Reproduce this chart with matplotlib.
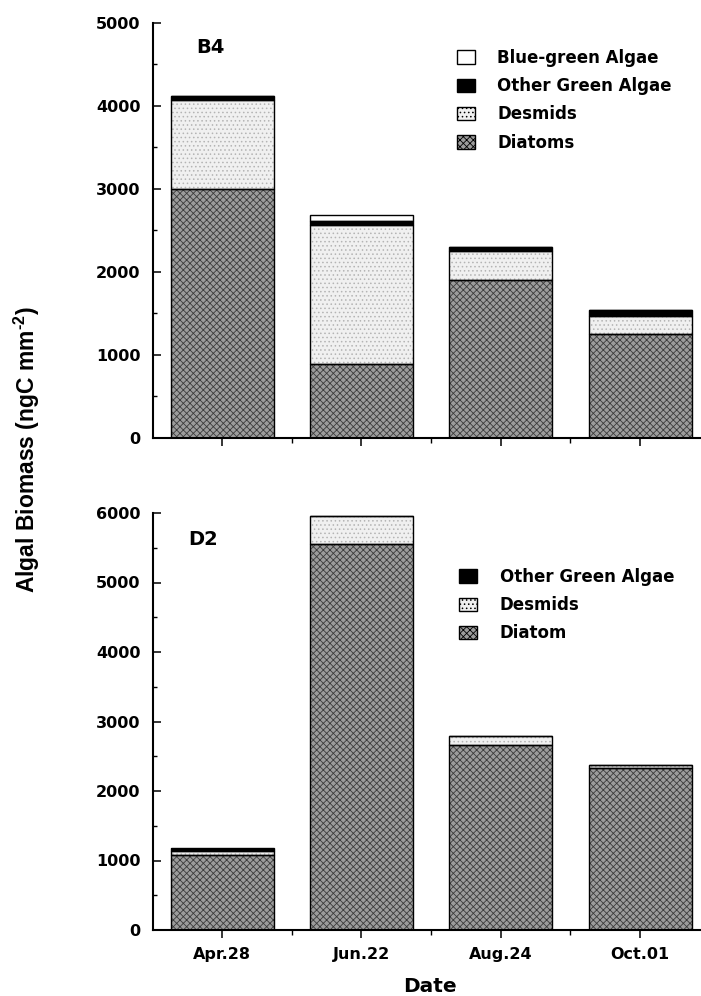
import matplotlib
matplotlib.use("Agg")
import matplotlib.pyplot as plt
import matplotlib.patches as mpatches
from matplotlib.ticker import MultipleLocator
import numpy as np

# ---------------- data ----------------
dates = ["Apr.28", "Jun.22", "Aug.24", "Oct.01"]

b4_diatoms = [3000, 890, 1900, 1250]
b4_desmids = [1070, 1680, 350, 220]
b4_other_green = [50, 50, 50, 70]
b4_blue_green = [0, 65, 0, 0]

d2_diatom = [1080, 5560, 2660, 2335]
d2_desmids = [50, 390, 130, 45]
d2_other_green = [55, 0, 0, 0]

# ---------------- style ----------------
plt.rcParams['font.family'] = ['DejaVu Sans']
plt.rcParams['font.weight'] = 'bold'
plt.rcParams['hatch.linewidth'] = 0.6
plt.rcParams['mathtext.fontset'] = 'custom'
plt.rcParams['mathtext.rm'] = 'Liberation Sans:bold'
plt.rcParams['mathtext.bf'] = 'Liberation Sans:bold'

TICK_FS = 11.5
DIATOM = dict(face='#9c9c9c', hatch='xxxxx', hcol='#3c3c3c')
DESMID = dict(face='#f0f0f0', hatch='....', hcol='#b4b4b4')
OTHER = dict(face='black', hatch=None, hcol='black')
BLUE = dict(face='white', hatch=None, hcol='white')

W, H = 701, 996
fig = plt.figure(figsize=(W / 100, H / 100), dpi=100)

left = 152.5 / W
width = (700 - 152.5) / W
ax1 = fig.add_axes([left, 1 - 438 / H, width, (438 - 23) / H])
ax2 = fig.add_axes([left, 1 - 930 / H, width, (930 - 513) / H])

x = np.arange(len(dates))
bw = 0.74


def stacked(ax, layers):
    bottom = np.zeros(len(x))
    for vals, st in layers:
        vals = np.asarray(vals, dtype=float)
        ax.bar(x, vals, bw, bottom=bottom, color=st['face'], hatch=st['hatch'],
               edgecolor=st['hcol'], linewidth=0, zorder=2)
        ax.bar(x, vals, bw, bottom=bottom, fill=False, edgecolor='black',
               linewidth=1.0, zorder=3)
        bottom = bottom + vals


stacked(ax1, [(b4_diatoms, DIATOM), (b4_desmids, DESMID),
              (b4_other_green, OTHER), (b4_blue_green, BLUE)])
stacked(ax2, [(d2_diatom, DIATOM), (d2_desmids, DESMID),
              (d2_other_green, OTHER)])

for ax, top in [(ax1, 5000), (ax2, 6000)]:
    ax.set_xlim(-0.5, 3.43)
    ax.set_ylim(0, top)
    for s in ['top', 'right']:
        ax.spines[s].set_visible(False)
    for s in ['left', 'bottom']:
        ax.spines[s].set_linewidth(1.5)
    ax.yaxis.set_major_locator(MultipleLocator(1000))
    ax.yaxis.set_minor_locator(MultipleLocator(500))
    ax.set_xticks(x)
    ax.set_xticks(x[:-1] + 0.5, minor=True)
    ax.tick_params(axis='y', which='major', direction='in', length=6, width=1.1,
                   pad=8.5, labelsize=TICK_FS)
    ax.tick_params(axis='y', which='minor', direction='in', length=3, width=1.0)
    ax.tick_params(axis='x', which='major', direction='out', length=6, width=1.1,
                   pad=6, labelsize=TICK_FS)
    ax.tick_params(axis='x', which='minor', direction='out', length=3.5, width=1.0)
    for lab in ax.get_yticklabels():
        lab.set_fontweight('bold')

ax1.set_xticklabels([])
ax2.set_xticklabels(dates, fontweight='bold')

# panel labels
ax1.text(0.105, 0.942, "B4", transform=ax1.transAxes, fontsize=14,
         fontweight='bold', ha='center', va='center')
ax2.text(0.092, 0.9376, "D2", transform=ax2.transAxes, fontsize=14,
         fontweight='bold', ha='center', va='center')


def handle(st):
    return mpatches.Patch(facecolor=st['face'], hatch=st['hatch'],
                          edgecolor='black', linewidth=1.0)


leg_kw = dict(loc='upper left', frameon=False, fontsize=12, borderpad=0,
              borderaxespad=0, handlelength=1.08, handleheight=0.85,
              handletextpad=1.35, labelspacing=0.62)

l1 = ax1.legend([handle(BLUE), handle(OTHER), handle(DESMID), handle(DIATOM)],
                ["Blue-green Algae", "Other Green Algae", "Desmids", "Diatoms"],
                bbox_to_anchor=(0.556, 0.938), **leg_kw)
l2 = ax2.legend([handle(OTHER), handle(DESMID), handle(DIATOM)],
                ["Other Green Algae", "Desmids", "Diatom"],
                bbox_to_anchor=(0.56, 0.869), **leg_kw)
for lg in (l1, l2):
    for t in lg.get_texts():
        t.set_fontweight('bold')

fig.text(27 / W, 1 - 450 / H, r"Algal Biomass (ngC mm$^{\mathbf{\text{-}2}}$)",
         rotation=90, ha='center', va='center', fontsize=16.5,
         family='Liberation Sans', fontweight='bold')
fig.text(430 / W, 1 - 986 / H, "Date", ha='center', va='center',
         fontsize=14.5, fontweight='bold')

fig.savefig("out.png", dpi=100)
